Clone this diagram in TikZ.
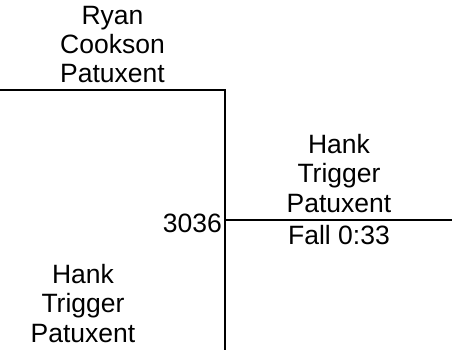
\documentclass[tikz,border=0pt]{standalone}
\usepackage{fontspec}
\setmainfont{Liberation Sans}
\begin{document}
\begin{tikzpicture}[x=1pt,y=-1pt,
  every node/.style={inner sep=0pt, font=\fontsize{26.5}{29.3}\selectfont},
  entrant/.style={align=center, anchor=base},
  bracket/.style={line width=2pt, line cap=rect}]
\useasboundingbox (0,0) rectangle (452,350);
\node[entrant] (top) at (112.5,83) {Ryan\\Cookson\\Patuxent};
\node[entrant] (win) at (339,212) {Hank\\Trigger\\Patuxent};
\node[entrant] (bot) at (83,342) {Hank\\Trigger\\Patuxent};
\node[anchor=base east] (score) at (222,232) {3036};
\node[anchor=base] (res) at (339,244) {Fall 0:33};
\coordinate (a) at (0,90);
\coordinate (j) at (225,90);
\coordinate (b) at (225,351);
\coordinate (m) at (225,220);
\coordinate (e) at (452,220);
\draw[bracket] (a) -- (j) -- (b);
\draw[bracket] (m) -- (e);
\end{tikzpicture}
\end{document}
